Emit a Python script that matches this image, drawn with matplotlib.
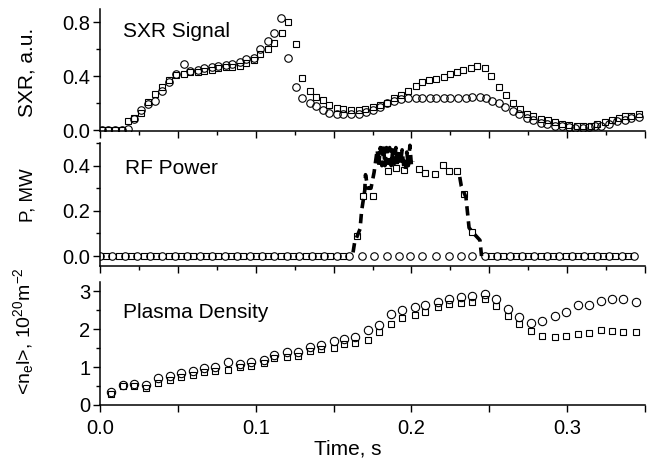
import matplotlib
matplotlib.use('Agg')
import matplotlib.pyplot as plt
from matplotlib.ticker import MultipleLocator, FormatStrFormatter

plt.rcParams['font.family'] = ['Liberation Sans', 'DejaVu Sans']
plt.rcParams['mathtext.fontset'] = 'custom'
plt.rcParams['mathtext.rm'] = 'Liberation Sans'
plt.rcParams['mathtext.it'] = 'Liberation Sans'

# ---------------- data: SXR signal ----------------
sxr_c_t = [0.001, 0.005, 0.0095, 0.014, 0.018, 0.022, 0.026, 0.031, 0.035, 0.040,
           0.044, 0.049, 0.054, 0.058, 0.063, 0.067, 0.072, 0.076, 0.081, 0.085,
           0.090, 0.094, 0.099, 0.103, 0.108, 0.112, 0.116, 0.121, 0.126, 0.130,
           0.135, 0.139, 0.143, 0.147, 0.152, 0.156, 0.161, 0.166, 0.171, 0.175,
           0.180, 0.184, 0.189, 0.193, 0.198, 0.203, 0.207, 0.212, 0.216, 0.221,
           0.225, 0.230, 0.235, 0.239, 0.244, 0.248, 0.252, 0.256, 0.260, 0.265,
           0.269, 0.274, 0.278, 0.283, 0.287, 0.292, 0.297, 0.301, 0.305, 0.310,
           0.314, 0.318, 0.322, 0.327, 0.332, 0.337, 0.341, 0.346]
sxr_c_v = [0.0, 0.0, 0.0, 0.0, 0.012, 0.085, 0.15, 0.195, 0.22, 0.29,
           0.36, 0.42, 0.49, 0.44, 0.45, 0.46, 0.47, 0.48, 0.485, 0.49,
           0.51, 0.53, 0.54, 0.60, 0.66, 0.72, 0.83, 0.54, 0.325, 0.24,
           0.205, 0.18, 0.15, 0.13, 0.125, 0.125, 0.125, 0.125, 0.137, 0.15,
           0.17, 0.20, 0.22, 0.23, 0.237, 0.24, 0.242, 0.242, 0.242, 0.242,
           0.242, 0.242, 0.242, 0.245, 0.245, 0.237, 0.22, 0.20, 0.175, 0.145,
           0.12, 0.095, 0.075, 0.057, 0.045, 0.035, 0.03, 0.025, 0.02, 0.02,
           0.025, 0.03, 0.035, 0.05, 0.07, 0.08, 0.095, 0.10]

sxr_s_t = [0.001, 0.005, 0.0095, 0.014, 0.018, 0.022, 0.026, 0.031, 0.035, 0.040,
           0.044, 0.049, 0.054, 0.058, 0.063, 0.067, 0.072, 0.076, 0.081, 0.085,
           0.090, 0.094, 0.099, 0.103, 0.108, 0.112, 0.117, 0.121, 0.126, 0.130,
           0.135, 0.139, 0.143, 0.147, 0.152, 0.156, 0.161, 0.166, 0.170, 0.175,
           0.180, 0.184, 0.189, 0.193, 0.198, 0.203, 0.207, 0.211, 0.216, 0.221,
           0.225, 0.229, 0.233, 0.238, 0.242, 0.247, 0.251, 0.256, 0.261, 0.265,
           0.270, 0.274, 0.278, 0.283, 0.288, 0.292, 0.297, 0.301, 0.306, 0.310,
           0.315, 0.319, 0.324, 0.329, 0.333, 0.337, 0.341, 0.346]
sxr_s_v = [0.0, 0.0, 0.0, 0.0, 0.07, 0.09, 0.13, 0.21, 0.27, 0.32,
           0.37, 0.41, 0.42, 0.43, 0.43, 0.44, 0.45, 0.46, 0.47, 0.47,
           0.48, 0.50, 0.52, 0.57, 0.60, 0.65, 0.72, 0.80, 0.64, 0.39,
           0.29, 0.25, 0.225, 0.19, 0.165, 0.16, 0.15, 0.15, 0.16, 0.175,
           0.19, 0.20, 0.237, 0.26, 0.29, 0.33, 0.36, 0.375, 0.38, 0.394,
           0.42, 0.43, 0.45, 0.46, 0.475, 0.46, 0.40, 0.325, 0.26, 0.205,
           0.155, 0.125, 0.105, 0.087, 0.075, 0.062, 0.05, 0.037, 0.03, 0.03,
           0.035, 0.045, 0.06, 0.075, 0.095, 0.107, 0.11, 0.125]

# ---------------- data: RF power ----------------
rf_c_t = [0.000, 0.008, 0.016, 0.024, 0.032, 0.040, 0.048, 0.056, 0.064, 0.072,
          0.080, 0.088, 0.096, 0.104, 0.112, 0.120, 0.128, 0.136, 0.144, 0.152,
          0.160, 0.168, 0.176, 0.184, 0.192, 0.199, 0.207, 0.216, 0.224, 0.232,
          0.239, 0.247, 0.255, 0.263, 0.271, 0.279, 0.287, 0.295, 0.303, 0.311,
          0.319, 0.327, 0.335, 0.343]
rf_c_v = [0.0] * 44

rf_s_t = [0.004, 0.012, 0.020, 0.028, 0.036, 0.044, 0.052, 0.060, 0.068, 0.076,
          0.084, 0.092, 0.100, 0.108, 0.116, 0.124, 0.132, 0.140, 0.148, 0.156,
          0.165, 0.169, 0.175, 0.185, 0.190, 0.195, 0.205, 0.209, 0.215, 0.220,
          0.224, 0.229, 0.234, 0.239,
          0.251, 0.259, 0.267, 0.275, 0.283, 0.291, 0.299, 0.307, 0.315, 0.323,
          0.331, 0.339]
rf_s_v = [0.0] * 20 + [0.09, 0.267, 0.267, 0.375, 0.39, 0.383, 0.385, 0.367, 0.364, 0.403,
                       0.375, 0.378, 0.274, 0.106] + [0.0] * 12

# measured RF trace (visible parts: ramp-up with oscillations, and ramp-down)
rf_up_t = [0.1625, 0.1635, 0.167, 0.168, 0.170, 0.1705, 0.172, 0.174,
           0.176, 0.178, 0.179, 0.180, 0.181, 0.182, 0.183, 0.184, 0.185, 0.186,
           0.187, 0.188, 0.189, 0.190, 0.191, 0.192, 0.193, 0.194, 0.195, 0.196,
           0.197, 0.198, 0.199, 0.200, 0.201]
rf_up_v = [0.016, 0.06, 0.12, 0.20, 0.29, 0.36, 0.30, 0.30,
           0.37, 0.47, 0.40, 0.48, 0.40, 0.49, 0.40, 0.48, 0.41, 0.48,
           0.40, 0.47, 0.41, 0.48, 0.40, 0.47, 0.41, 0.47, 0.40, 0.38,
           0.46, 0.40, 0.49, 0.40, 0.42]
rf_down_t = [0.231, 0.232, 0.235, 0.237, 0.240, 0.244, 0.245]
rf_down_v = [0.35, 0.31, 0.26, 0.125, 0.10, 0.07, 0.0]

# ---------------- data: plasma density ----------------
ne_c_t = [0.007, 0.0145, 0.022, 0.0295, 0.037, 0.045, 0.052, 0.060, 0.067, 0.074,
          0.082, 0.090, 0.097, 0.105, 0.112, 0.120, 0.127, 0.135, 0.142, 0.150,
          0.157, 0.164, 0.172, 0.179, 0.187, 0.194, 0.202, 0.209, 0.217, 0.224,
          0.232, 0.239, 0.247, 0.254, 0.262, 0.269, 0.277, 0.284, 0.292, 0.299,
          0.307, 0.314, 0.322, 0.329, 0.336, 0.344]
ne_c_v = [0.35, 0.53, 0.55, 0.53, 0.71, 0.77, 0.84, 0.91, 0.97, 1.00,
          1.13, 1.08, 1.13, 1.19, 1.33, 1.39, 1.40, 1.53, 1.58, 1.70,
          1.75, 1.80, 1.99, 2.12, 2.41, 2.50, 2.58, 2.65, 2.73, 2.79,
          2.85, 2.88, 2.92, 2.79, 2.54, 2.32, 2.17, 2.23, 2.35, 2.45,
          2.65, 2.63, 2.74, 2.79, 2.79, 2.73]

ne_s_t = ne_c_t
ne_s_v = [0.29, 0.49, 0.49, 0.46, 0.58, 0.66, 0.73, 0.80, 0.86, 0.90,
          0.93, 1.00, 1.04, 1.10, 1.24, 1.28, 1.30, 1.42, 1.48, 1.50,
          1.62, 1.64, 1.73, 1.92, 2.15, 2.30, 2.39, 2.45, 2.59, 2.68,
          2.70, 2.72, 2.79, 2.61, 2.36, 2.15, 1.95, 1.83, 1.80, 1.83,
          1.88, 1.90, 1.99, 1.95, 1.92, 1.92]

panel_titles = ['SXR Signal', 'RF Power', 'Plasma Density']
ylabels = ['SXR, a.u.', 'P, MW',
           r'<n$_\mathregular{e}$l>, 10$^\mathregular{20}$m$^\mathregular{-2}$']

# ---------------- figure ----------------
fig = plt.figure(figsize=(6.52, 4.63), dpi=100)
L, R = 0.1534, 0.9893
ax1 = fig.add_axes([L, 0.7160, R - L, 0.9806 - 0.7160])
ax2 = fig.add_axes([L, 0.4265, R - L, 0.6910 - 0.4265])
ax3 = fig.add_axes([L, 0.1253, R - L, 0.3910 - 0.1253])

TICK_FS = 14.5
LAB_FS = 15

sq = dict(marker='s', ls='none', mfc='none', mec='black', mew=0.8, ms=4.6)
ci = dict(marker='o', ls='none', mfc='none', mec='black', mew=0.8, ms=5.4)

ax1.plot(sxr_s_t, sxr_s_v, **sq)
ax1.plot(sxr_c_t, sxr_c_v, **ci)

trace = dict(color='black', lw=2.6, ls=(0, (2.6, 1.6)))
ax2.plot(rf_up_t, rf_up_v, **trace)
ax2.plot(rf_down_t, rf_down_v, **trace)
ax2.plot(rf_s_t, rf_s_v, **sq)
ax2.plot(rf_c_t, rf_c_v, **ci)

ax3.plot(ne_s_t, ne_s_v, **sq)
ax3.plot(ne_c_t, ne_c_v, **dict(ci, ms=6.0))

ax1.set_ylim(-0.008, 0.9)
ax2.set_ylim(-0.042, 0.5)
ax3.set_ylim(0, 3.25)

for ax in (ax1, ax2, ax3):
    ax.set_xlim(0, 0.35)
    ax.spines['top'].set_visible(False)
    ax.spines['right'].set_visible(False)
    for s in ('left', 'bottom'):
        ax.spines[s].set_linewidth(1.1)
    ax.tick_params(which='both', direction='out', width=1.0, labelsize=TICK_FS, pad=2)
    ax.tick_params(which='major', length=5)
    ax.tick_params(which='minor', length=3)
    ax.patch.set_alpha(0)

for ax in (ax1, ax2):
    ax.xaxis.set_major_locator(MultipleLocator(0.05))
    ax.xaxis.set_minor_locator(MultipleLocator(0.025))
    ax.tick_params(axis='x', labelbottom=False)

ax3.xaxis.set_major_locator(MultipleLocator(0.1))
ax3.xaxis.set_minor_locator(MultipleLocator(0.05))
ax3.tick_params(axis='x', which='minor', length=5)
ax3.tick_params(axis='x', which='major', pad=5)
ax3.xaxis.set_major_formatter(FormatStrFormatter('%.1f'))

ax1.yaxis.set_major_locator(MultipleLocator(0.4))
ax1.yaxis.set_minor_locator(MultipleLocator(0.2))
ax1.yaxis.set_major_formatter(FormatStrFormatter('%.1f'))
ax2.yaxis.set_major_locator(MultipleLocator(0.2))
ax2.yaxis.set_minor_locator(MultipleLocator(0.1))
ax2.yaxis.set_major_formatter(FormatStrFormatter('%.1f'))
ax3.yaxis.set_major_locator(MultipleLocator(1))
ax3.yaxis.set_minor_locator(MultipleLocator(0.5))
ax3.yaxis.set_major_formatter(FormatStrFormatter('%d'))

ax1.text(0.015, 0.73, panel_titles[0], fontsize=LAB_FS, va='center', ha='left')
ax2.text(0.016, 0.387, panel_titles[1], fontsize=LAB_FS, va='center', ha='left')
ax3.text(0.015, 2.44, panel_titles[2], fontsize=LAB_FS, va='center', ha='left')

ax1.set_ylabel(ylabels[0], fontsize=LAB_FS)
ax2.set_ylabel(ylabels[1], fontsize=13.5)
ax3.set_ylabel(ylabels[2], fontsize=14)
ax1.yaxis.set_label_coords(-0.117, 0.48)
ax2.yaxis.set_label_coords(-0.117, 0.575)
ax3.yaxis.set_label_coords(-0.117, 0.60)

ax3.set_xlabel('Time, s', fontsize=LAB_FS)
ax3.xaxis.set_label_coords(0.455, -0.28)

fig.savefig('out.png', dpi=100)
